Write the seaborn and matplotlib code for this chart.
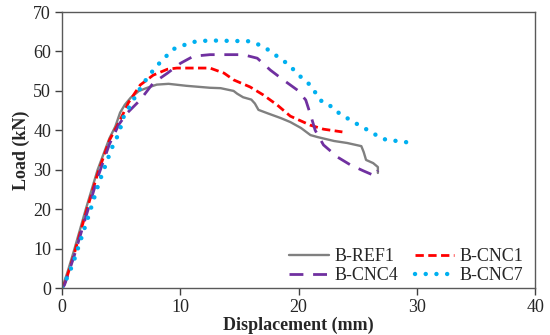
import matplotlib
matplotlib.use("Agg")
from matplotlib import pyplot as plt
import seaborn as sns

# %% data
ref1_x = [0, 0.5, 1, 2, 3, 4, 4.5, 4.9, 5.3, 5.8, 6.5, 7.2, 8.0, 9.0, 10.5, 11.7, 12.5, 13.4,
          14.5, 14.8, 15.3, 16.0, 16.3, 16.6, 17.4, 18.5, 19.3, 20.2, 21.0, 21.6, 23.0, 24.1,
          25.3, 25.5, 25.7, 26.3, 26.7, 26.7]
ref1_y = [0, 4.5, 9.5, 20, 30, 38, 41, 44.5, 46.5, 48.3, 50.0, 50.8, 51.6, 51.8, 51.3, 51, 50.8,
          50.7, 50, 49.3, 48.4, 47.8, 46.8, 45.2, 44.3, 43.1, 42.1, 40.6, 38.8, 38.3, 37.3, 36.8,
          36, 34.5, 32.5, 31.7, 30.7, 29.2]

cnc1_x = [0, 0.3, 1, 2, 3, 4, 4.9, 5.6, 6.6, 7.7, 8.9, 9.7, 12.5, 13.7, 14.5, 15.9, 17.0, 18.2,
          19.3, 21.0, 22.1, 23.7]
cnc1_y = [0, 1.8, 8.5, 19, 29, 37.5, 42.6, 47, 51.5, 54, 55.5, 55.8, 55.8, 54.5, 52.8, 51, 49,
          46.4, 43.6, 41.3, 40.3, 39.6]

cnc4_x = [0, 0.2, 1, 2, 3, 4, 4.8, 5.5, 6.6, 7.7, 8.9, 10.0, 11.1, 12.5, 15.3, 16.5, 17.6, 18.7,
          19.9, 20.6, 21.0, 21.4, 22.1, 23.3, 24.4, 25.5, 26.5, 26.7]
cnc4_y = [0, 0.8, 8, 18, 28, 36.5, 41.5, 44.4, 47.7, 52, 54.5, 57, 58.8, 59.2, 59.2, 58.3, 55.3,
          52.8, 50.2, 47.7, 44, 40, 36.3, 33.2, 31.2, 29.7, 28.4, 29.8]

cnc7_x = [0, 0.25, 0.7, 1, 2.2, 3.1, 4.2, 4.8, 5.2, 6.4, 7.3, 8.3, 9.4, 11.0, 12.4, 15.8, 16.5,
          17.2, 17.8, 18.5, 19.1, 19.6, 20.2, 20.8, 21.3, 21.6, 22.1, 22.9, 23.4, 24.1, 25.0,
          26.3, 26.8, 27.5, 28.4, 29.1, 29.9]
cnc7_y = [0, 1.5, 4.6, 7, 18, 26.6, 35.5, 39.3, 43.4, 49.7, 53.8, 57.3, 60.6, 62.4, 62.8, 62.6,
          61.9, 60.9, 59.6, 58.1, 56.8, 55.3, 53.5, 52, 50.2, 48.5, 46.9, 45.9, 44.4, 43.1, 41.5,
          39.3, 38.3, 37.5, 37.3, 37, 36.8]

# %% style
sns.set_style("ticks")
plt.rcParams['font.family'] = ['Liberation Serif', 'DejaVu Serif']
plt.rcParams['font.size'] = 13

fig, ax = plt.subplots(figsize=(5.5, 3.35), dpi=100)
fig.subplots_adjust(left=0.113, right=0.973, top=0.964, bottom=0.140)

sns.lineplot(x=ref1_x, y=ref1_y, ax=ax, sort=False, estimator=None, color='#808080',
             linewidth=1.7, label='B-REF1')
sns.lineplot(x=cnc1_x, y=cnc1_y, ax=ax, sort=False, estimator=None, color='#FF0000',
             linewidth=2.0, linestyle=(0, (3, 1.6)), label='B-CNC1')
sns.lineplot(x=cnc4_x, y=cnc4_y, ax=ax, sort=False, estimator=None, color='#7030A0',
             linewidth=2.0, linestyle=(0, (5, 3.5)), label='B-CNC4')
sns.lineplot(x=cnc7_x, y=cnc7_y, ax=ax, sort=False, estimator=None, color='#00B0F0',
             linewidth=3.2, linestyle=(0, (0.01, 2.4)), dash_capstyle='round', label='B-CNC7')

ax.set_xlim(0, 40)
ax.set_ylim(0, 70)
ax.set_xticks([0, 10, 20, 30, 40])
ax.set_yticks(range(0, 71, 10))
ax.tick_params(axis='both', direction='out', length=5, width=1, color='#404040',
               labelsize=13, pad=3)
for s in ax.spines.values():
    s.set_color('#595959')
    s.set_linewidth(1.0)

ax.set_xlabel('Displacement (mm)', fontsize=13, fontweight='bold', labelpad=0)
ax.set_ylabel('Load (kN)', fontsize=13, fontweight='bold', labelpad=2)

# legend: two columns, rows REF1/CNC1 and CNC4/CNC7
h, l = ax.get_legend_handles_labels()
order = [0, 2, 1, 3]
ax.legend([h[i] for i in order], [l[i] for i in order], ncol=2, frameon=False,
          loc='lower right', bbox_to_anchor=(1.01, -0.045), fontsize=13,
          handlelength=2.2, handletextpad=0.3, columnspacing=0.9, labelspacing=0.1)

plt.savefig('out.png', dpi=100)
